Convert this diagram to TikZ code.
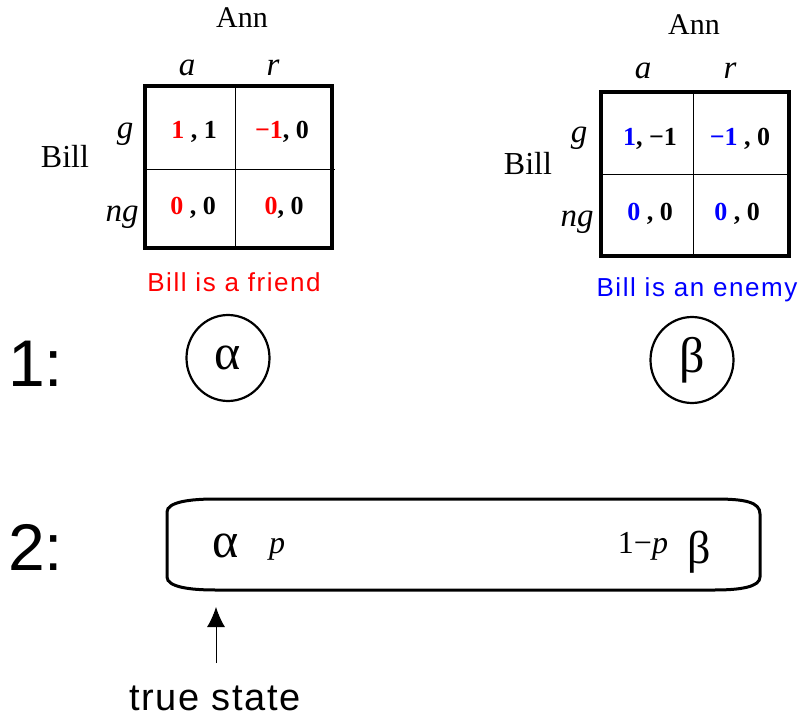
\documentclass[tikz,border=0pt]{standalone}
\usepackage{fontspec}
\setmainfont{Liberation Serif}
\newfontfamily\capsans[LetterSpace=6]{Liberation Sans}
\newfontfamily\bigsans{Liberation Sans}
\newfontfamily\truesans[LetterSpace=4]{Liberation Sans}
\usetikzlibrary{shapes.geometric,arrows.meta}
\newcommand{\fs}[1]{\fontsize{#1}{#1}\selectfont}
\tikzset{
  txt/.style={inner sep=0pt, anchor=base},
  lbl/.style={txt, font=\fs{33}\itshape},
  player/.style={txt, font=\fs{30}},
  cell/.style={txt, font=\fs{26}\bfseries},
  caption/.style={txt, font=\fs{26}\capsans},
  outer/.style={line width=3.2pt},
  inner/.style={line width=0.9pt},
  state/.style={ellipse, draw, line width=2.2pt, minimum width=83pt, minimum height=86pt, inner sep=0pt, font=\fs{50}},
  stage/.style={txt, anchor=base west, font=\fs{66}\bigsans},
}
\begin{document}
\begin{tikzpicture}[x=1pt,y=-1pt]
\useasboundingbox (0,0) rectangle (804,719);
% ---------- left matrix ----------
\draw[outer] (145,86) rectangle (332,248);
\draw[inner] (235,86) -- (235,248);
\draw[inner] (145,169) -- (335,169);
\node[player] (annL) at (242,28) {Ann};
\node[lbl] (aL) at (187,76) {a};
\node[lbl] (rL) at (273,76) {r};
\node[lbl] (gL) at (125,139) {g};
\node[lbl] (ngL) at (122,222) {ng};
\node[player, font=\fs{32}] (billL) at (65,168) {Bill};
\node[cell] (c11L) at (194,139) {\textcolor{red}{1} , 1};
\node[cell] (c12L) at (282,139) {\textcolor{red}{−1}, 0};
\node[cell] (c21L) at (193,215) {\textcolor{red}{0} , 0};
\node[cell] (c22L) at (284,215) {\textcolor{red}{0}, 0};
\node[caption, text=red] (capL) at (234,292) {Bill is a friend};
% ---------- right matrix ----------
\draw[outer] (601,92) rectangle (789,256);
\draw[inner] (693,92) -- (693,256);
\draw[inner] (601,174) -- (789,174);
\node[player] (annR) at (694,35) {Ann};
\node[lbl] (aR) at (643,79) {a};
\node[lbl] (rR) at (730,79) {r};
\node[lbl] (gR) at (579,143) {g};
\node[lbl] (ngR) at (577,227) {ng};
\node[player, font=\fs{32}] (billR) at (528,175) {Bill};
\node[cell] (c11R) at (650,146) {\textcolor{blue}{1}, −1};
\node[cell] (c12R) at (740,146) {\textcolor{blue}{−1} , 0};
\node[cell] (c21R) at (650,221) {\textcolor{blue}{0} , 0};
\node[cell] (c22R) at (737,221) {\textcolor{blue}{0} , 0};
\node[caption, text=blue] (capR) at (697,297) {Bill is an enemy};
% ---------- stage 1 ----------
\node[stage] (one) at (8,387) {1:};
\node[state] (alpha) at (228,358) {α};
\node[state] (beta) at (692,360) {β};
% ---------- stage 2 ----------
\node[stage] (two) at (8,570) {2:};
\draw[line width=3pt] (167,577) -- (167,512)
  .. controls (167,502) and (190,499) .. (215,499) -- (715,499)
  .. controls (745,499) and (760,502) .. (760,514) -- (760,577)
  .. controls (760,587) and (740,590) .. (715,590) -- (215,590)
  .. controls (190,590) and (167,587) .. (167,577) -- cycle;
\node[txt, font=\fs{50}] (alpha2) at (226,557) {α};
\node[txt, font=\fs{32}\itshape] (p) at (277,553) {p};
\node[txt, font=\fs{32}] (q) at (643,553) {1−\textit{p}};
\node[txt, font=\fs{46}] (beta2) at (699,563) {β};
% ---------- true state ----------
\node[txt, font=\fs{38}\truesans] (ts) at (215,710) {true state};
\coordinate (tail) at (216,663);
\coordinate (tip) at (216,607);
\draw[line width=1pt, -{Latex[length=20pt,width=18pt]}] (tail) -- (tip);
\end{tikzpicture}
\end{document}
